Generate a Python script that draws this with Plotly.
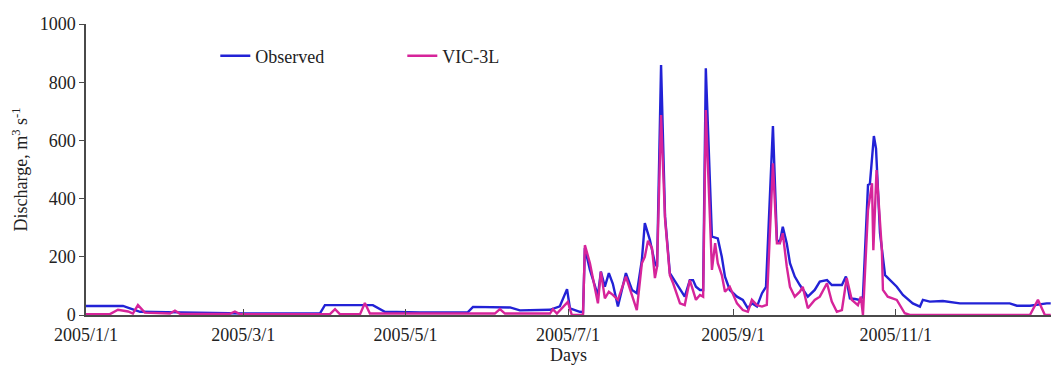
import pandas as pd
import plotly.graph_objects as go

START = pd.Timestamp("2005-01-01")

# Observed discharge: day offset from 2005/1/1 and value (m3/s)
obs_day = [0, 13.9, 16.5, 20.3, 35.3, 46.5, 59.7, 76.6, 87.8, 89.7, 107.7, 112.2, 125.4, 143.4,
           145.3, 159.2, 162.9, 174.2, 177.9, 180.6, 181.7, 185.4, 186.6, 187.3, 189.2, 192.2,
           193.3, 194.8, 196.3, 197.8, 199.7, 202.7, 205.0, 206.8, 208.7, 209.8, 211.7, 213.6,
           214.4, 215.9, 217.4, 219.2, 220.4, 223.0, 224.8, 226.7, 227.9, 229.0, 230.5, 231.7,
           232.7, 235.0, 237.2, 238.7, 239.9, 241.7, 244.4, 246.6, 248.5, 250.0, 251.9, 253.8,
           255.3, 257.9, 259.4, 260.5, 261.6, 263.1, 264.3, 266.1, 268.0, 271.0, 273.6, 275.5,
           278.2, 280.0, 283.8, 285.3, 286.8, 288.7, 290.5, 291.7, 293.6, 294.3, 295.8, 296.6,
           298.1, 300.0, 301.8, 304.4, 306.7, 310.4, 313.1, 314.2, 316.8, 321.7, 328.1, 346.8,
           349.5, 354.4, 360.7, 362.2]
obs_val = [31, 31, 23, 11, 9, 6, 5, 5, 5, 34, 34, 11, 9, 10,
           28, 26, 16, 18, 30, 89, 23, 11, 10, 230, 155, 67,
           149, 97, 144, 107, 29, 144, 86, 75, 189, 316, 258, 178,
           166, 859, 338, 144, 127, 86, 63, 120, 120, 97, 86, 86,
           848, 269, 263, 200, 132, 86, 63, 52, 23, 40, 29, 75,
           97, 649, 258, 250, 303, 246, 178, 132, 103, 63, 86, 115,
           120, 103, 103, 132, 57, 55, 52, 63, 447, 450, 615, 573,
           281, 137, 120, 97, 69, 40, 29, 52, 46, 48, 40, 40,
           32, 32, 40, 40]

# VIC-3L simulated discharge
vic_day = [0, 9.0, 12.0, 15.8, 17.6, 19.5, 22.1, 31.5, 33.4, 35.3, 54.0, 55.9, 57.8, 91.6,
           93.5, 95.3, 102.9, 104.7, 106.6, 153.5, 155.4, 157.3, 174.2, 175.3, 176.8, 180.9,
           182.4, 186.6, 187.3, 189.2, 192.2, 193.3, 194.8, 196.3, 197.8, 199.7, 202.7, 205.0,
           206.8, 208.7, 209.8, 211.0, 212.5, 213.6, 214.4, 215.9, 217.4, 219.2, 220.4, 223.0,
           224.8, 226.7, 227.9, 229.0, 230.5, 231.7, 232.7, 234.2, 235.0, 236.2, 237.2, 238.7,
           239.9, 241.7, 244.4, 246.6, 248.5, 250.0, 251.9, 253.8, 255.6, 257.9, 259.4, 260.5,
           261.6, 263.1, 264.3, 266.1, 268.0, 269.1, 271.0, 273.6, 275.5, 278.2, 280.0, 281.9,
           283.8, 285.6, 287.5, 289.8, 290.9, 291.7, 293.6, 295.1, 295.6, 296.8, 298.8, 299.2,
           301.0, 304.4, 307.4, 309.3, 354.4, 357.4, 360.0, 362.2]
vic_val = [3, 3, 18, 12, 5, 34, 8, 5, 15, 4, 4, 12, 3, 3,
           20, 3, 3, 41, 5, 5, 20, 5, 5, 20, 5, 45,
           0, 0, 240, 178, 40, 149, 57, 80, 69, 52, 132, 63,
           17, 178, 200, 255, 230, 127, 166, 687, 330, 137, 110, 40,
           34, 120, 86, 52, 69, 63, 704, 300, 155, 247, 178, 137,
           80, 97, 40, 17, 11, 52, 34, 29, 35, 521, 246, 246,
           281, 166, 97, 63, 80, 97, 23, 52, 63, 109, 46, 11,
           17, 127, 52, 34, 63, 0, 361, 453, 223, 498, 223, 86,
           63, 52, 6, 0, 0, 52, 0, 0]

tick_dates = ["2005-01-01", "2005-03-01", "2005-05-01", "2005-07-01", "2005-09-01", "2005-11-01"]
tick_text = ["2005/1/1", "2005/3/1", "2005/5/1", "2005/7/1", "2005/9/1", "2005/11/1"]
y_ticks = [0, 200, 400, 600, 800, 1000]


def to_dates(days):
    return START + pd.to_timedelta(days, unit="D")


FONT = "Liberation Serif"
AXIS_COLOR = "#4a4a4a"
FS = 18

fig = go.Figure()
fig.add_trace(go.Scatter(x=to_dates(obs_day), y=obs_val, mode="lines", name="Observed",
                         line=dict(color="#2222d6", width=2.4)))
fig.add_trace(go.Scatter(x=to_dates(vic_day), y=vic_val, mode="lines", name="VIC-3L",
                         line=dict(color="#d6249a", width=2.4)))

fig.update_layout(
    width=1051, height=365,
    margin=dict(l=86, r=0, t=24, b=50),
    paper_bgcolor="white", plot_bgcolor="white",
    font=dict(family=FONT, size=FS, color="#222222"),
    showlegend=True,
    legend=dict(orientation="h", x=0.134, y=0.89, xanchor="left", yanchor="middle",
                font=dict(family=FONT, size=FS, color="#222222"),
                entrywidth=142, bgcolor="rgba(0,0,0,0)"),
    xaxis=dict(range=[START, to_dates([362.3])[0]], showline=True, linecolor=AXIS_COLOR,
               linewidth=1.5, ticks="inside", ticklen=6, tickcolor=AXIS_COLOR,
               tickvals=pd.to_datetime(tick_dates), ticktext=tick_text, showgrid=False,
               zeroline=False, tickfont=dict(family=FONT, size=FS), ticklabelstandoff=3,
               title=dict(text="Days", standoff=5,
                          font=dict(family=FONT, size=FS))),
    yaxis=dict(range=[0, 1000], showline=True, linecolor=AXIS_COLOR, linewidth=1.5,
               ticks="outside", ticklen=5, tickcolor=AXIS_COLOR, tickvals=y_ticks,
               showgrid=False, zeroline=False, tickfont=dict(family=FONT, size=FS),
               title=dict(text="Discharge, m<sup>3</sup> s<sup>-1</sup>", standoff=7,
                          font=dict(family=FONT, size=FS))),
)

fig.write_html("out.html")
